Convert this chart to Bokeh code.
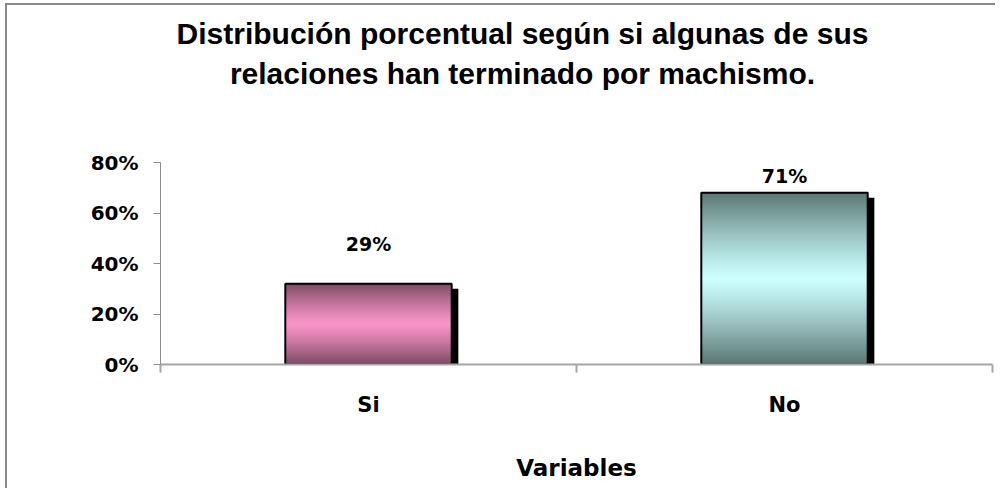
import numpy as np
from bokeh.plotting import figure
from bokeh.models import FixedTicker, PrintfTickFormatter, ColumnDataSource, Label
from bokeh.core.properties import value
from bokeh.embed import file_html
from bokeh.resources import INLINE

# ---- data ----
categories = ["Si", "No"]
bar_heights = [32, 68]          # drawn bar heights (%)
bar_labels = ["29%", "71%"]     # data labels printed above the bars
y_ticks = [0, 20, 40, 60, 80]
y_max = 80
title_lines = ["Distribución porcentual según si algunas de sus",
               "relaciones han terminado por machismo."]
x_title = "Variables"

# ---- styles / layout ----
edge_colors = [(0x7b, 0x4a, 0x63), (0x5a, 0x76, 0x72)]
mid_colors = [(0xf9, 0x94, 0xc8), (0xcc, 0xff, 0xff)]
label_offsets = [-40, -17]
bar_w = 0.4
axis_px = 202            # pixel height of the 0..80% axis
frame_h = 359            # frame height in pixels (frame starts at canvas top)
y_end = y_max * frame_h / axis_px

xs = [i + 0.5 for i in range(len(categories))]

p = figure(width=990, height=485, x_range=(0, len(categories)), y_range=(0, y_end),
           output_backend="svg", toolbar_location=None,
           min_border_left=153, min_border_right=5, min_border_bottom=126, min_border_top=0)
p.styles = {"margin-left": "5px", "margin-top": "3px",
            "border-left": "2px solid #8a8a8a", "border-top": "2px solid #8a8a8a"}
p.background_fill_color = "white"
p.border_fill_color = "white"
p.outline_line_color = None
p.grid.visible = False

# title lines
for txt, yy in zip(title_lines, [331, 291]):
    p.add_layout(Label(x=362, y=yy, x_units="screen", y_units="screen", text=txt,
                       text_align="center", text_baseline="middle",
                       text_font="Liberation Sans", text_font_style="bold",
                       text_font_size="30px", text_color="black"))

# shadows
shadow_dx = 0.016
shadow_dy = 2.0
p.quad(left=[x - bar_w / 2 + shadow_dx for x in xs], right=[x + bar_w / 2 + shadow_dx for x in xs],
       bottom=[0] * len(xs), top=[h - shadow_dy for h in bar_heights],
       fill_color="black", line_color=None)

# gradient fill as images
def grad(ec, mc, n=200):
    f = (np.arange(n) + 0.5) / n
    t = np.abs(2 * f - 1) ** 1.2
    rgb = np.array(mc)[None, :] + (np.array(ec) - np.array(mc))[None, :] * t[:, None]
    rgb = np.round(rgb).astype(np.uint32)
    img = (255 << 24) | (rgb[:, 2] << 16) | (rgb[:, 1] << 8) | rgb[:, 0]
    return np.repeat(img[:, None], 2, axis=1).astype(np.uint32)

imgs = [grad(ec, mc) for ec, mc in zip(edge_colors, mid_colors)]
p.image_rgba(image=imgs, x=[x - bar_w / 2 for x in xs], y=[0] * len(xs),
             dw=[bar_w] * len(xs), dh=bar_heights)

# outlines
p.vbar(x=xs, top=bar_heights, width=bar_w, fill_color=None, line_color="black", line_width=2)

# labels
src = ColumnDataSource(dict(x=xs, y=bar_heights, t=bar_labels, off=label_offsets))
p.text(x="x", y="y", text="t", y_offset="off", source=src, text_align="center",
       text_baseline="middle", text_font=value("DejaVu Sans"), text_font_style="bold",
       text_font_size="19px", text_color="black")

# y axis
ya = p.yaxis[0]
ya.bounds = (0, y_max)
ya.ticker = FixedTicker(ticks=y_ticks, minor_ticks=[])
ya.formatter = PrintfTickFormatter(format="%d%%")
ya.axis_line_color = "#8c8c8c"
ya.major_tick_line_color = "#8c8c8c"
ya.major_tick_out = 7
ya.major_tick_in = 0
ya.minor_tick_line_color = None
ya.major_label_standoff = 15
ya.major_label_text_font = "DejaVu Sans"
ya.major_label_text_font_style = "bold"
ya.major_label_text_font_size = "20px"
ya.major_label_text_color = "black"

# x axis
xa = p.xaxis[0]
xa.ticker = FixedTicker(ticks=xs, minor_ticks=list(range(len(categories) + 1)))
xa.major_label_overrides = {x: c for x, c in zip(xs, categories)}
xa.axis_line_color = "#a6a6a6"
xa.axis_line_width = 2
xa.major_tick_line_color = None
xa.major_tick_out = 0
xa.minor_tick_line_color = "#a6a6a6"
xa.minor_tick_line_width = 2
xa.minor_tick_out = 8
xa.minor_tick_in = 0
xa.major_label_standoff = 20
xa.major_label_text_font = "DejaVu Sans"
xa.major_label_text_font_style = "bold"
xa.major_label_text_font_size = "21px"
xa.major_label_text_color = "black"
xa.axis_label = x_title
xa.axis_label_standoff = 35
xa.axis_label_text_font = "DejaVu Sans"
xa.axis_label_text_font_style = "bold"
xa.axis_label_text_font_size = "23px"
xa.axis_label_text_color = "black"

open("out.html", "w").write(file_html(p, INLINE))
